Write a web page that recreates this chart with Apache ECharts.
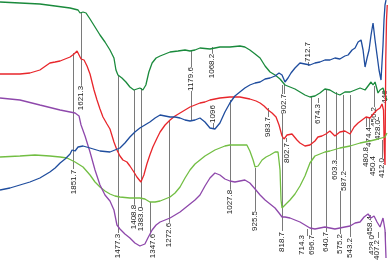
<!DOCTYPE html>
<html><head><meta charset="utf-8">
<script src="https://cdn.jsdelivr.net/npm/echarts@6/dist/echarts.min.js"></script>
<style>html,body{margin:0;padding:0;background:#fff}#c{width:388px;height:261px}</style>
</head><body><div id="c"></div>
<script>
// Wavenumber (cm-1) vs offset transmittance (arbitrary units, top = 0)
const darkGreen = [[1950,2],[1870,3],[1790,4],[1729,6],[1669,8],[1637,10],[1629,13],[1617,12],[1605,13],[1589,19],[1569,27],[1549,35],[1529,42],[1509,50],[1493,58],[1485,70],[1477,75],[1461,78],[1445,82],[1429,87],[1413,90],[1401,89],[1389,88],[1377,90],[1365,85],[1353,72],[1340,63],[1324,58],[1308,56],[1288,54],[1268,52],[1236,51],[1208,50],[1188,51],[1168,50],[1148,48],[1108,49],[1068,47],[1028,47],[988,46],[968,47],[948,50],[927,54],[907,58],[887,66],[867,72],[847,75],[827,79],[807,85],[787,87],[767,89],[747,92],[727,95],[707,97],[687,96],[667,93],[647,89],[627,90],[607,93],[587,95],[567,92],[546,92],[526,90],[506,88],[486,90],[474,86],[462,82],[454,85],[446,82],[434,93],[426,90],[414,88],[406,95],[398,100]];
const red = [[1950,74],[1910,74],[1870,74],[1830,73],[1790,70],[1750,63],[1729,62],[1709,61],[1689,59],[1669,57],[1653,54],[1641,51],[1633,55],[1625,59],[1613,60],[1601,66],[1589,74],[1573,90],[1561,100],[1549,109],[1537,117],[1521,124],[1509,129],[1493,142],[1481,150],[1469,156],[1457,160],[1441,162],[1429,166],[1413,172],[1401,177],[1385,182],[1373,175],[1361,164],[1349,155],[1337,147],[1320,138],[1308,132],[1288,125],[1268,120],[1248,116],[1228,113],[1208,110],[1188,107],[1168,105],[1148,103],[1128,102],[1108,100],[1068,98],[1028,97],[988,97],[948,99],[923,101],[907,103],[891,106],[875,110],[859,113],[843,117],[831,125],[819,136],[811,139],[799,135],[779,134],[759,140],[747,143],[727,146],[707,145],[687,141],[675,137],[659,136],[643,134],[627,131],[607,136],[587,132],[567,131],[546,134],[530,127],[514,123],[498,120],[482,117],[466,118],[450,113],[438,110],[426,108],[418,104],[412,110],[409,150],[406,165],[403,60],[400,20],[397,5]];
const blue = [[1950,190],[1910,188],[1870,185],[1830,182],[1790,178],[1750,172],[1729,168],[1709,163],[1689,159],[1669,154],[1661,150],[1649,151],[1637,147],[1617,146],[1589,148],[1549,151],[1509,152],[1489,150],[1469,148],[1449,143],[1429,137],[1409,132],[1389,128],[1369,125],[1349,122],[1328,118],[1308,115],[1288,116],[1268,117],[1248,117],[1228,118],[1208,120],[1188,121],[1168,120],[1148,118],[1128,122],[1108,128],[1088,129],[1068,123],[1048,112],[1028,103],[1008,96],[988,92],[968,88],[948,85],[927,83],[907,82],[887,79],[867,78],[847,76],[831,73],[819,75],[807,82],[795,78],[783,73],[767,68],[747,63],[727,64],[707,65],[687,63],[667,62],[647,60],[627,60],[607,58],[587,59],[567,56],[554,55],[538,50],[526,48],[514,42],[502,40],[494,50],[486,67],[478,58],[470,50],[462,35],[454,23],[446,40],[438,55],[430,70],[422,80],[414,45],[410,20],[406,5],[402,0]];
const lightGreen = [[1950,157],[1870,156],[1810,155],[1750,156],[1709,157],[1681,158],[1649,162],[1617,167],[1589,175],[1569,182],[1549,187],[1529,191],[1509,194],[1489,196],[1469,197],[1429,198],[1389,198],[1369,199],[1349,202],[1328,202],[1308,201],[1288,199],[1268,197],[1248,193],[1228,187],[1208,178],[1188,170],[1168,164],[1148,160],[1128,156],[1108,153],[1088,150],[1068,148],[1048,146],[1028,145],[988,145],[960,145],[948,151],[935,160],[927,167],[915,166],[899,160],[883,157],[867,155],[847,152],[835,152],[827,170],[823,200],[819,208],[807,205],[787,200],[767,194],[747,186],[727,176],[707,163],[687,156],[667,154],[647,152],[627,151],[587,148],[546,146],[506,143],[466,141],[434,139],[406,137],[398,133]];
const purple = [[1950,98],[1870,100],[1790,105],[1709,110],[1649,113],[1633,116],[1625,125],[1609,136],[1589,152],[1569,170],[1549,185],[1529,195],[1509,201],[1493,210],[1481,225],[1469,229],[1449,234],[1429,238],[1409,243],[1389,246],[1381,247],[1369,244],[1357,238],[1340,230],[1324,225],[1308,222],[1288,220],[1268,218],[1248,215],[1228,212],[1208,208],[1188,204],[1168,200],[1148,195],[1128,186],[1108,178],[1088,173],[1068,175],[1048,179],[1028,181],[1008,182],[988,181],[968,180],[948,183],[927,189],[907,195],[887,200],[867,204],[847,208],[831,213],[819,217],[807,217],[787,218],[767,220],[747,222],[727,225],[707,228],[687,229],[667,228],[647,227],[627,228],[607,229],[587,228],[567,227],[546,226],[526,223],[506,222],[490,217],[474,214],[462,218],[450,216],[438,222],[426,227],[414,218],[406,230],[402,258]];

// Peak annotations: label text, leader x, leader top, leader bottom, label x, label centre
const peakText = ["1851.7","1621.3","1477.3","1408.8","1383.0","1347.6","1272.6","1179.6","1068.2","1096","1027.8","925.5","983.7","902.7","802.7","818.7","712.7","674.3","714.3","696.7","640.7","603.3","587.2","575.2","543.2","480.8","474.4","456.2","450.4","428.0","446","412.0","458.4","428.0","407.2"];
const peakLineX = [1657.3,1625.2,1476.8,1412.7,1384.6,1348.5,1272.3,1184.1,1099.9,1095.9,1027.7,927.4,875.3,811.2,803.1,819.2,714.9,674.8,718.9,702.9,642.7,602.6,574.6,586.6,546.5,482.3,470.3,450.3,454.3,434.2,406.2,418.2,466.3,434.2,406.2];
const peakLineTop = [53,12,75,90,88,202,120,50,47,123,100,168,108,85,138,85,61,98,229,97,89,92,95,190,95,118,117,86,172,117,88,140,215,232,232];
const peakLineBottom = [169,86,233,206,207,236,224,120,54,128,191,211,117,96,142,231,66,103,236,236,232,161,172,236,237,146,127,107,172,121,90,159,218,238,243];
const peakLabelX = [1653.3,1625.2,1476.8,1412.7,1384.6,1336.5,1272.3,1184.1,1099.9,1095.9,1027.7,927.4,875.3,811.2,799.1,819.2,714.9,674.8,739.0,698.9,642.7,606.7,570.6,586.6,546.5,482.3,470.3,450.3,454.3,434.2,406.2,418.2,466.3,458.3,438.2];
const peakLabelY = [182,98,246,217,219,246,235,79,66,114,202,221,127,104,153,242,52,114,245,245,242,170,181,244,248,157,137,117,166,130,97,168,226,245,250];

const peakData = peakText.map((t, i) => [peakLineX[i], peakLineTop[i], peakLineBottom[i], peakLabelX[i], peakLabelY[i]]);

const chart = echarts.init(document.getElementById('c'), null, {renderer: 'canvas'});
const lineSeries = (name, data, color) => ({
  name, type: 'line', data, showSymbol: false, symbol: 'none', z: 3,
  lineStyle: {color, width: 1.3}, itemStyle: {color}, animation: false
});
chart.setOption({
  backgroundColor: '#fff',
  animation: false,
  grid: {left: 0, right: 0, top: 0, bottom: 0},
  xAxis: {type: 'value', inverse: true, min: 394, max: 1950, show: false},
  yAxis: {type: 'value', inverse: true, min: 0, max: 261, show: false},
  series: [
    {
      type: 'custom', z: 2, data: peakData, animation: false, clip: false,
      encode: {x: [0, 3], y: [1, 2, 4]},
      renderItem: function (params, api) {
        const a = api.coord([api.value(0), api.value(1)]);
        const b = api.coord([api.value(0), api.value(2)]);
        const l = api.coord([api.value(3), api.value(4)]);
        const x = Math.round(a[0]) + 0.5;
        return {
          type: 'group',
          children: [
            {type: 'line', shape: {x1: x, y1: a[1], x2: x, y2: b[1]}, style: {stroke: '#7a7a7a', lineWidth: 1}},
            {type: 'text', x: Math.round(l[0]), y: l[1], rotation: Math.PI / 2, z2: 10,
              style: {text: peakText[params.dataIndex], fill: '#1a1a1a', font: '8px "Liberation Sans", Arial, sans-serif',
                align: 'center', verticalAlign: 'middle', backgroundColor: '#fff'}}
          ]
        };
      }
    },
    lineSeries('A', darkGreen, '#1a8a3c'),
    lineSeries('B', red, '#e8262b'),
    lineSeries('C', lightGreen, '#72be43'),
    lineSeries('D', purple, '#8e48ab'),
    lineSeries('E', blue, '#1f4d9e')
  ]
});
</script></body></html>
